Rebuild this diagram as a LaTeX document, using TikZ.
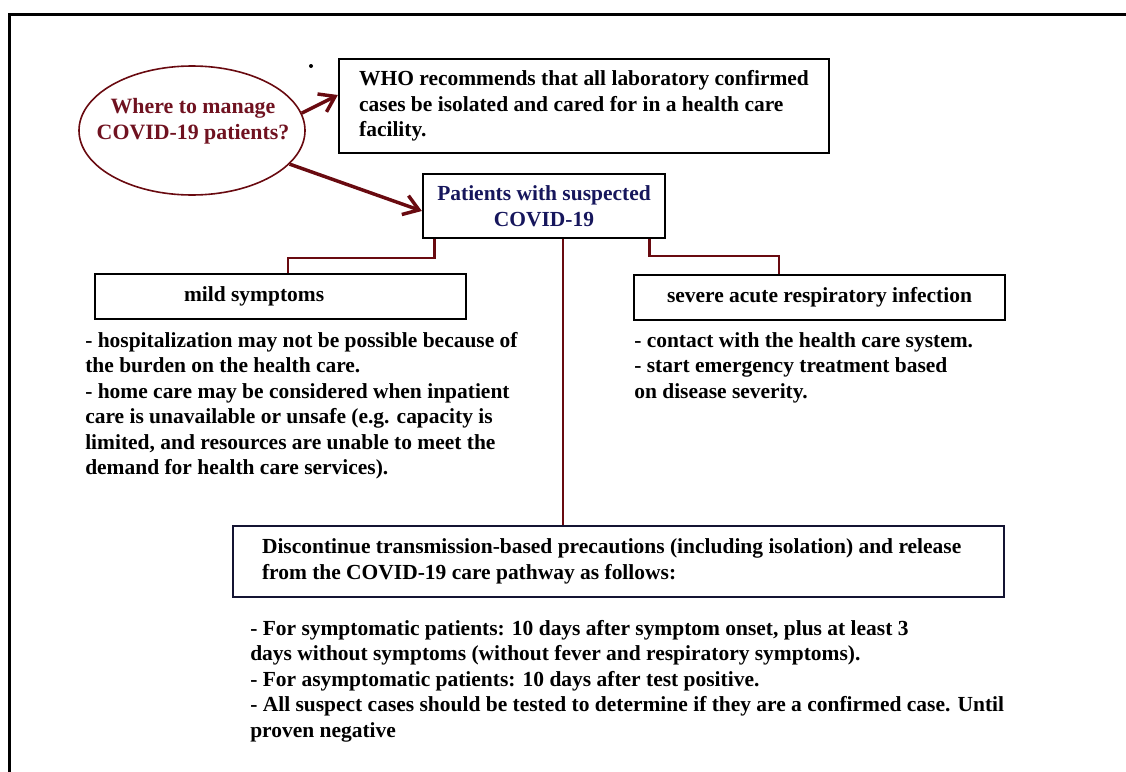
\documentclass[tikz,border=0pt]{standalone}
\usepackage{fontspec}
\setmainfont{Liberation Serif}
\usetikzlibrary{shapes.geometric,arrows.meta,calc}
\definecolor{cline}{RGB}{105,10,16}
\definecolor{ctext}{RGB}{112,18,32}
\definecolor{cnavy}{RGB}{22,22,92}
\definecolor{cboxnavy}{RGB}{20,20,50}
\def\pxu{0.75pt}
\begin{document}
\begin{tikzpicture}[x=0.75pt,y=-0.75pt,
  every node/.style={font=\fontsize{16.1pt}{19.1pt}\selectfont\bfseries},
  box/.style={draw=black, line width=1.7pt, rectangle, inner sep=0pt},
  conn/.style={draw=cline, line width=2.2pt},
  arr/.style={draw=cline, line width=2.6pt, -{Straight Barb[length=11pt,width=15pt,line width=2.6pt]}},
  txt/.style={anchor=north west, inner sep=0pt, align=left}
]
\useasboundingbox (0,0) rectangle (1126,771);
\draw[line width=2.25pt] (9,775) -- (9,14) -- (1130,14);

\node[draw=cline, line width=1.2pt, ellipse, minimum width=226*\pxu, minimum height=129*\pxu, inner sep=0pt] (ell) at (192,130.5) {};
\node[text=ctext, align=center, inner sep=0pt, font=\fontsize{16.4pt}{19.4pt}\selectfont\bfseries] (elltext) at (193,121) {Where to manage\\COVID-19 patients?};
\fill (311,66) circle (2);

\node[box, align=left, minimum width=490*\pxu, minimum height=94*\pxu] (who) at (584,106)
  {WHO recommends that all laboratory confirmed\\cases be isolated and cared for in a health care\\facility.};

\node[box, text=cnavy, align=center, minimum width=242*\pxu, minimum height=64*\pxu] (pat) at (544,206)
  {Patients with suspected\\COVID-19};

\node[box, minimum width=371*\pxu, minimum height=45*\pxu, align=flush left, text width=193*\pxu, inner xsep=89*\pxu] (mild) at (280.5,296.5) {mild symptoms};

\node[box, minimum width=371*\pxu, minimum height=45*\pxu] (sev) at (819.5,297.5) {severe acute respiratory infection};

\node[box, draw=cboxnavy, line width=2pt, align=flush left, minimum width=771*\pxu, minimum height=71*\pxu, text width=713*\pxu, inner xsep=29*\pxu] (disc) at (618.5,561.5)
  {Discontinue transmission-based precautions (including isolation) and release\\from the COVID-19 care pathway as follows:};

\node[txt] (mildtxt) at (85,332) {- hospitalization may not be possible because of\\the burden on the health care.\\- home care may be considered when inpatient\\care is unavailable or unsafe (e.g. capacity is\\limited, and resources are unable to meet the\\demand for health care services).};

\node[txt] (sevtxt) at (634,332) {- contact with the health care system.\\- start emergency treatment based\\on disease severity.};

\node[txt] (disctxt) at (250,620) {- For symptomatic patients: 10 days after symptom onset, plus at least 3\\days without symptoms (without fever and respiratory symptoms).\\- For asymptomatic patients: 10 days after test positive.\\- All suspect cases should be tested to determine if they are a confirmed case. Until\\proven negative};

\draw[arr] (ell.9) -- ([yshift=11*\pxu]who.west);
\draw[arr] (ell.-19) -- ([yshift=-5*\pxu]pat.west);

\coordinate (yl) at (0,258);
\coordinate (yr) at (0,256);
\coordinate (pl) at ([xshift=13*\pxu]pat.south west);
\coordinate (ml) at ([xshift=7.5*\pxu]mild.north);
\coordinate (pr) at ([xshift=-17*\pxu]pat.south east);
\coordinate (sr) at ([xshift=-40.5*\pxu]sev.north);
\coordinate (pc) at ([xshift=19*\pxu]pat.south);
\draw[conn] (pl) -- (pl |- yl) -| (ml);
\draw[conn] (pr) -- (pr |- yr) -| (sr);
\draw[conn] (pc) -- (pc |- disc.north);
\end{tikzpicture}
\end{document}
